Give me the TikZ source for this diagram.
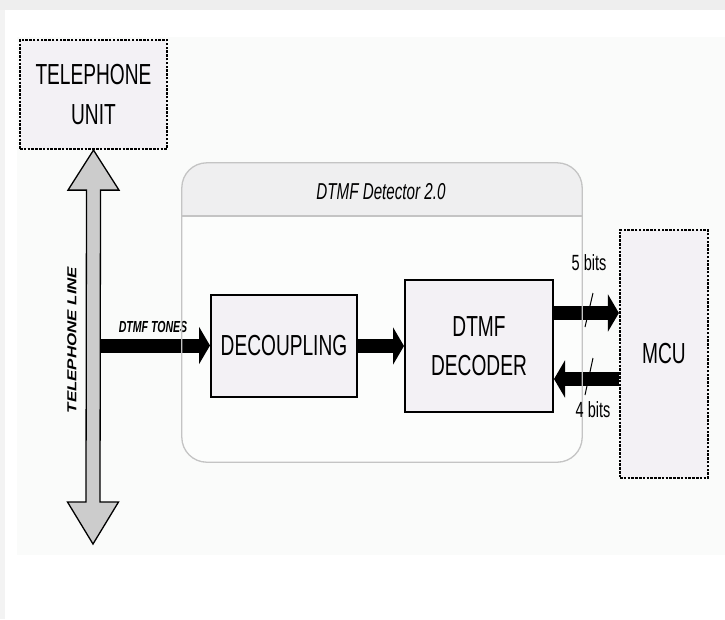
\documentclass[tikz,border=0pt]{standalone}
\usepackage{fontspec}
\setmainfont{Liberation Sans}[FakeStretch=0.66]
\newfontfamily\widefont{Liberation Sans}[FakeStretch=1.3]
\usetikzlibrary{arrows.meta,calc}
\definecolor{boxfill}{HTML}{F3F1F5}
\definecolor{panel}{HTML}{FAFBFA}
\definecolor{linegray}{HTML}{CCCCCC}
\definecolor{frame}{HTML}{C4C4C4}
\definecolor{hdr}{HTML}{EFEFF0}
\definecolor{topband}{HTML}{EEEEEE}
\tikzset{
  dashbox/.style={draw=black, fill=boxfill, line width=2.2pt, dash pattern=on 2.5pt off 1.3pt, align=center, font=\fontsize{29}{40}\selectfont, inner sep=0pt},
  solidbox/.style={draw=black, fill=boxfill, line width=2pt, align=center, font=\fontsize{29}{39}\selectfont, inner sep=0pt},
  bigarrow/.style={line width=14pt, -{Triangle[length=11pt,width=37pt]}},
  lbl/.style={inner sep=0pt, font=\fontsize{22}{24}\selectfont},
  slash/.style={line width=1pt, black}
}
\begin{document}
\begin{tikzpicture}[x=1pt,y=-1pt]
\useasboundingbox (0,0) rectangle (725,619);
\fill[white] (0,0) rectangle (725,619);
\fill[topband] (0,0) rectangle (725,10);
\fill[topband!70] (0,10) rectangle (5,619);
\fill[panel] (17,37) rectangle (725,555);

% detector container (fill only)
\node[inner sep=0pt, minimum width=400pt, minimum height=299pt] (det) at (382,312.5) {};
\fill[white!50!panel, rounded corners=25pt] (det.north west) rectangle (det.south east);
\begin{scope}
  \clip[rounded corners=25pt] (det.north west) rectangle (det.south east);
  \fill[hdr] (det.north west) rectangle (det.east |- 0,216);
\end{scope}
\node[inner sep=0pt, font=\fontsize{23}{25}\selectfont\itshape] (dettitle) at (381,192) {DTMF Detector 2.0};

% boxes
\node[dashbox, minimum width=147pt, minimum height=109pt] (tel) at (93.5,94.5) {TELEPHONE\\UNIT};
\node[solidbox, minimum width=146pt, minimum height=102pt] (dec) at (284,346) {DECOUPLING};
\node[solidbox, minimum width=148pt, minimum height=132pt] (dcd) at (479,346) {DTMF\\DECODER};
\node[dashbox, minimum width=88pt, minimum height=248pt] (mcu) at (664,354) {MCU};

% telephone line double arrow
\coordinate (lt) at (tel.south);
\coordinate (lb) at (93,544);
\draw[fill=linegray, line width=1.3pt, line join=miter]
  (lt) -- ($(lt)+(25.5,40)$) -- ($(lt)+(7,40)$) -- ($(lb)+(7,-42)$) -- ($(lb)+(25.5,-42)$) -- (lb)
  -- ($(lb)+(-25.5,-42)$) -- ($(lb)+(-7,-42)$) -- ($(lt)+(-7,40)$) -- ($(lt)+(-25.5,40)$) -- cycle;
\node[inner sep=0pt, rotate=90, font=\widefont\fontsize{13}{14}\selectfont\bfseries\itshape] (tline) at (72,340) {TELEPHONE LINE};

% signal arrows
\coordinate (tap) at (100,345.5);
\draw[bigarrow] (tap) -- (dec.west |- tap);
\node[inner sep=0pt, font=\fontsize{16}{18}\selectfont\bfseries\itshape] (tones) at (153,327) {DTMF TONES};
\draw[bigarrow] (dec.east) -- (dcd.west |- dec.east);
\draw[bigarrow] (dcd.east |- 0,313) -- (mcu.west |- 0,313);
\draw[bigarrow] (mcu.west |- 0,379) -- (dcd.east |- 0,379);

% detector border on top
\draw[frame, line width=1.3pt, rounded corners=25pt] (det.north west) rectangle (det.south east);
\draw[frame, line width=1.3pt] (det.west |- 0,216) -- (det.east |- 0,216);

% bus slashes and widths
\draw[slash] (593,293) -- (585,327);
\draw[slash] (593,358) -- (585,395);
\node[lbl] (b5) at (589,263) {5 bits};
\node[lbl] (b4) at (593,410) {4 bits};
\end{tikzpicture}
\end{document}
